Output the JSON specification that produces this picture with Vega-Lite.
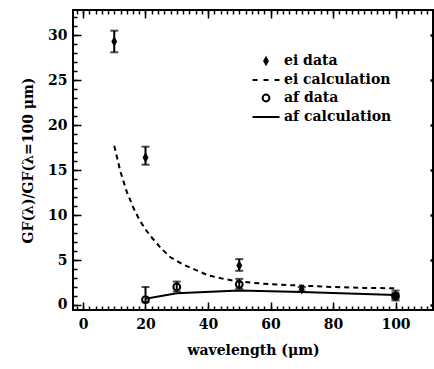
{
  "$schema": "https://vega.github.io/schema/vega-lite/v6.json",
  "autosize": "none",
  "padding": {"left": 73, "top": 10, "right": 1, "bottom": 59},
  "width": 360,
  "height": 300,
  "config": {
    "view": {"stroke": "black", "strokeWidth": 2},
    "font": "DejaVu Serif",
    "axis": {"grid": false, "domain": false, "tickColor": "black", "tickWidth": 1.5, "labelFont": "DejaVu Serif", "labelFontSize": 14, "labelFontWeight": "bold", "labelColor": "black", "titleFont": "DejaVu Serif", "titleFontSize": 14, "titleFontWeight": "bold", "titleColor": "black"},
    "legend": {"title": null, "orient": "none", "legendX": 182, "legendY": 40, "symbolSize": 400, "rowPadding": 0, "padding": 0,
      "labelFont": "DejaVu Serif", "labelFontSize": 14, "labelFontWeight": "bold", "labelColor": "black", "labelOffset": 7,
      "symbolStrokeWidth": 2}
  },
  "datasets": {
    "obs": [
      {"series": "ei data", "wavelength": 10, "value": 29.3, "lo": 28.1, "hi": 30.5},
      {"series": "ei data", "wavelength": 20, "value": 16.4, "lo": 15.6, "hi": 17.6},
      {"series": "ei data", "wavelength": 50, "value": 4.4, "lo": 3.8, "hi": 5.1},
      {"series": "ei data", "wavelength": 70, "value": 1.75, "lo": 1.5, "hi": 2.0},
      {"series": "ei data", "wavelength": 100, "value": 1.0, "lo": 0.5, "hi": 1.6},
      {"series": "af data", "wavelength": 20, "value": 0.6, "lo": 0.3, "hi": 2.0},
      {"series": "af data", "wavelength": 30, "value": 2.0, "lo": 1.5, "hi": 2.6},
      {"series": "af data", "wavelength": 50, "value": 2.3, "lo": 1.8, "hi": 2.9},
      {"series": "af data", "wavelength": 100, "value": 1.0, "lo": 0.7, "hi": 1.3}
    ],
    "eicalc": [
      {"wavelength": 10, "value": 17.7},
      {"wavelength": 12, "value": 14.8},
      {"wavelength": 14, "value": 12.6},
      {"wavelength": 16, "value": 10.9},
      {"wavelength": 18, "value": 9.5},
      {"wavelength": 20, "value": 8.4},
      {"wavelength": 22, "value": 7.5},
      {"wavelength": 25, "value": 6.3},
      {"wavelength": 28, "value": 5.3},
      {"wavelength": 32, "value": 4.5},
      {"wavelength": 36, "value": 3.9},
      {"wavelength": 40, "value": 3.3},
      {"wavelength": 45, "value": 2.9},
      {"wavelength": 50, "value": 2.6},
      {"wavelength": 60, "value": 2.3},
      {"wavelength": 70, "value": 2.15},
      {"wavelength": 80, "value": 2.0},
      {"wavelength": 90, "value": 1.9},
      {"wavelength": 100, "value": 1.85}
    ],
    "afcalc": [
      {"wavelength": 20, "value": 0.7},
      {"wavelength": 30, "value": 1.3},
      {"wavelength": 50, "value": 1.6},
      {"wavelength": 70, "value": 1.45},
      {"wavelength": 100, "value": 1.1}
    ]
  },
  "layer": [
    {
      "data": {"name": "eicalc"},
      "mark": {"type": "line", "stroke": "black", "strokeWidth": 2, "strokeDash": [5, 4]},
      "encoding": {
        "x": {"field": "wavelength", "type": "quantitative", "scale": {"domain": [-3.2, 112], "nice": false, "zero": false},
          "axis": {"orient": "bottom", "title": "wavelength (μm)", "titlePadding": 12, "labelPadding": 7, "offset": -8, "tickSize": 8,
            "values": [0, 20, 40, 60, 80, 100], "labelFlush": false}},
        "y": {"field": "value", "type": "quantitative", "scale": {"domain": [-0.56, 32.8], "nice": false, "zero": false},
          "axis": {"orient": "left", "title": "GF(λ)/GF(λ=100 μm)", "titlePadding": 12, "labelPadding": 6, "offset": -8, "tickSize": 8,
            "values": [0, 5, 10, 15, 20, 25, 30]}}
      }
    },
    {
      "data": {"name": "afcalc"},
      "mark": {"type": "line", "stroke": "black", "strokeWidth": 2},
      "encoding": {
        "x": {"field": "wavelength", "type": "quantitative",
          "axis": {"orient": "top", "title": null, "labels": false, "offset": -8, "tickSize": 8,
            "values": [0, 20, 40, 60, 80, 100]}},
        "y": {"field": "value", "type": "quantitative",
          "axis": {"orient": "right", "title": null, "labels": false, "values": [0, 5, 10, 15, 20, 25, 30], "offset": -3, "tickSize": 3, "tickWidth": 2.5}}
      }
    },
    {
      "data": {"name": "obs"},
      "mark": {"type": "rule", "stroke": "black", "strokeWidth": 2},
      "encoding": {
        "x": {"field": "wavelength", "type": "quantitative",
          "axis": {"orient": "bottom", "title": null, "labels": false, "offset": -4, "tickSize": 4,
            "values": [-2,0,2,4,6,8,10,12,14,16,18,20,22,24,26,28,30,32,34,36,38,40,42,44,46,48,50,52,54,56,58,60,62,64,66,68,70,72,74,76,78,80,82,84,86,88,90,92,94,96,98,100,102,104,106,108,110]}},
        "y": {"field": "lo", "type": "quantitative",
          "axis": {"orient": "left", "title": null, "labels": false, "offset": -4, "tickSize": 4,
            "values": [0,1,2,3,4,5,6,7,8,9,10,11,12,13,14,15,16,17,18,19,20,21,22,23,24,25,26,27,28,29,30,31,32]}},
        "y2": {"field": "hi"}
      }
    },
    {
      "data": {"name": "obs"},
      "mark": {"type": "tick", "orient": "horizontal", "color": "black", "size": 8, "thickness": 2},
      "encoding": {
        "x": {"field": "wavelength", "type": "quantitative",
          "axis": {"orient": "top", "title": null, "labels": false, "offset": -4, "tickSize": 4,
            "values": [-2,0,2,4,6,8,10,12,14,16,18,20,22,24,26,28,30,32,34,36,38,40,42,44,46,48,50,52,54,56,58,60,62,64,66,68,70,72,74,76,78,80,82,84,86,88,90,92,94,96,98,100,102,104,106,108,110]}},
        "y": {"field": "lo", "type": "quantitative", "axis": null}
      }
    },
    {
      "data": {"name": "obs"},
      "mark": {"type": "tick", "orient": "horizontal", "color": "black", "size": 8, "thickness": 2},
      "encoding": {
        "x": {"field": "wavelength", "type": "quantitative", "axis": null},
        "y": {"field": "hi", "type": "quantitative", "axis": null}
      }
    },
    {
      "data": {"name": "obs"},
      "mark": {"type": "point", "strokeWidth": 2, "size": 400, "opacity": 1},
      "encoding": {
        "x": {"field": "wavelength", "type": "quantitative", "axis": null},
        "y": {"field": "value", "type": "quantitative", "axis": null},
        "stroke": {"field": "series", "type": "nominal",
          "scale": {"domain": ["ei data", "ei calculation", "af data", "af calculation"], "range": ["black", "black", "black", "black"]}},
        "fill": {"field": "series", "type": "nominal",
          "scale": {"domain": ["ei data", "ei calculation", "af data", "af calculation"], "range": ["black", "transparent", "transparent", "transparent"]}},
        "shape": {"field": "series", "type": "nominal",
          "scale": {"domain": ["ei data", "ei calculation", "af data", "af calculation"],
            "range": ["M0,-0.32L0.18,0L0,0.32L-0.18,0Z", "M-1.35,0L-0.85,0M-0.25,0L0.25,0M0.85,0L1.35,0", "M0.34,0A0.34,0.34,0,1,1,-0.34,0A0.34,0.34,0,1,1,0.34,0Z", "M-1.35,0L1.35,0"]}}
      }
    }
  ],
  "resolve": {"axis": {"x": "independent", "y": "independent"}}
}
